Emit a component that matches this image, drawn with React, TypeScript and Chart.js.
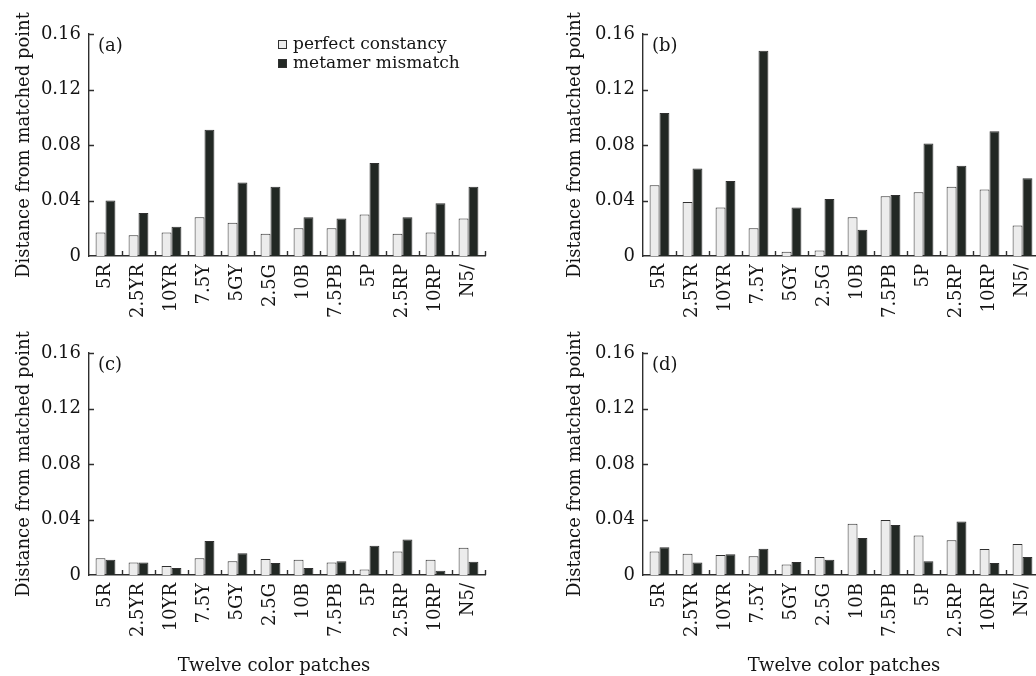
import React, { useEffect, useRef } from "react";
import { Chart, registerables } from "chart.js";

Chart.register(...registerables);

// ---------- data ----------
const categories = ["5R", "2.5YR", "10YR", "7.5Y", "5GY", "2.5G", "10B", "7.5PB", "5P", "2.5RP", "10RP", "N5/"];
const yTicks = [0, 0.04, 0.08, 0.12, 0.16];
const seriesNames = ["perfect constancy", "metamer mismatch"];
const yTitle = "Distance from matched point";
const xTitle = "Twelve color patches";

const perfectA = [0.017, 0.015, 0.017, 0.028, 0.024, 0.016, 0.020, 0.020, 0.030, 0.016, 0.017, 0.027];
const mismatchA = [0.040, 0.031, 0.021, 0.091, 0.053, 0.050, 0.028, 0.027, 0.067, 0.028, 0.038, 0.050];

const perfectB = [0.051, 0.039, 0.035, 0.020, 0.003, 0.004, 0.028, 0.043, 0.046, 0.050, 0.048, 0.022];
const mismatchB = [0.103, 0.063, 0.054, 0.148, 0.035, 0.041, 0.019, 0.044, 0.081, 0.065, 0.090, 0.056];

const perfectC = [0.012, 0.009, 0.0065, 0.012, 0.010, 0.0115, 0.011, 0.009, 0.004, 0.017, 0.011, 0.0197];
const mismatchC = [0.011, 0.009, 0.005, 0.0245, 0.0156, 0.0087, 0.005, 0.010, 0.021, 0.0255, 0.003, 0.0096];

const perfectD = [0.017, 0.0154, 0.0144, 0.0135, 0.0075, 0.013, 0.037, 0.0397, 0.0284, 0.025, 0.0188, 0.0224];
const mismatchD = [0.020, 0.009, 0.015, 0.019, 0.0094, 0.011, 0.0267, 0.036, 0.0099, 0.0385, 0.0087, 0.013];

// ---------- styles ----------
const FONT = "'DejaVu Serif', serif";
const FONT_SIZE = 18;
const LEGEND_SIZE = 17;
const TEXT = "#141414";
const AXIS = "#2e2e2e";
const LIGHT = "#ececec";
const DARK = "#222824";
const BORDER = "#303030";

type PanelCfg = {
  label: string;
  perfect: number[];
  mismatch: number[];
  x: number;
  y: number;
  w: number;
  h: number;
  padTop: number;
  padRight: number;
  yWidth: number;
  xHeight: number;
  legend: boolean;
  xTitleX: number | null;
};

const panels: PanelCfg[] = [
  { label: "(a)", perfect: perfectA, mismatch: mismatchA, x: 0, y: 0, w: 518, h: 340, padTop: 34, padRight: 33, yWidth: 89, xHeight: 84, legend: true, xTitleX: null },
  { label: "(b)", perfect: perfectB, mismatch: mismatchB, x: 551, y: 0, w: 509, h: 340, padTop: 34, padRight: 21, yWidth: 92, xHeight: 84, legend: false, xTitleX: null },
  { label: "(c)", perfect: perfectC, mismatch: mismatchC, x: 0, y: 316, w: 518, h: 360, padTop: 37, padRight: 33, yWidth: 89, xHeight: 101, legend: false, xTitleX: 274 },
  { label: "(d)", perfect: perfectD, mismatch: mismatchD, x: 551, y: 316, w: 509, h: 360, padTop: 37, padRight: 21, yWidth: 92, xHeight: 101, legend: false, xTitleX: 293 },
];

function decorPlugin(cfg: PanelCfg) {
  return {
    id: "decor",
    afterDraw(chart: any) {
      const { ctx, chartArea: a, scales } = chart;
      const ys = scales.y;
      ctx.save();
      ctx.strokeStyle = AXIS;
      ctx.lineWidth = 1.4;
      ctx.beginPath();
      const n = categories.length;
      const cw = (a.right - a.left) / n;
      for (let i = 1; i <= n; i++) {
        const px = Math.round(a.left + i * cw) + 0.5;
        ctx.moveTo(px, a.bottom);
        ctx.lineTo(px, a.bottom - 5);
      }
      for (const v of yTicks) {
        if (v === 0) continue;
        const py = Math.round(ys.getPixelForValue(v)) + 0.5;
        ctx.moveTo(a.left, py);
        ctx.lineTo(a.left + 5, py);
      }
      ctx.stroke();

      ctx.fillStyle = TEXT;
      ctx.font = `${FONT_SIZE}px ${FONT}`;
      ctx.textAlign = "left";
      ctx.textBaseline = "middle";
      ctx.fillText(cfg.label, a.left + 9, a.top + 12);

      if (cfg.legend) {
        const fills = [LIGHT, DARK];
        const baselines = [49, 68];
        ctx.font = `${LEGEND_SIZE}px ${FONT}`;
        ctx.textBaseline = "alphabetic";
        for (let i = 0; i < seriesNames.length; i++) {
          const b = baselines[i];
          ctx.fillStyle = fills[i];
          ctx.fillRect(278, b - 9, 9, 9);
          ctx.strokeStyle = BORDER;
          ctx.lineWidth = 1;
          ctx.strokeRect(278.5, b - 8.5, 8, 8);
          ctx.fillStyle = TEXT;
          ctx.fillText(seriesNames[i], 293, b);
        }
      }

      if (cfg.xTitleX !== null) {
        ctx.font = `${FONT_SIZE}px ${FONT}`;
        ctx.fillStyle = TEXT;
        ctx.textAlign = "center";
        ctx.textBaseline = "middle";
        ctx.fillText(xTitle, cfg.xTitleX, cfg.h - 10);
      }
      ctx.restore();
    },
  };
}

function BarPanel({ cfg }: { cfg: PanelCfg }) {
  const ref = useRef<HTMLCanvasElement>(null);
  useEffect(() => {
    if (!ref.current) return;
    const chart = new Chart(ref.current, {
      type: "bar",
      data: {
        labels: categories,
        datasets: [
          {
            label: seriesNames[0],
            data: cfg.perfect,
            backgroundColor: LIGHT,
            borderColor: BORDER,
            borderWidth: 1,
            categoryPercentage: 0.6,
            barPercentage: 1,
          },
          {
            label: seriesNames[1],
            data: cfg.mismatch,
            backgroundColor: DARK,
            borderColor: BORDER,
            borderWidth: 1,
            categoryPercentage: 0.6,
            barPercentage: 1,
          },
        ],
      },
      options: {
        responsive: false,
        animation: false,
        events: [],
        layout: { padding: { top: cfg.padTop, right: cfg.padRight, left: 0, bottom: 0 } },
        plugins: {
          legend: { display: false },
          tooltip: { enabled: false },
          title: { display: false },
        },
        font: { family: FONT, size: FONT_SIZE },
        scales: {
          x: {
            type: "category",
            grid: { display: false, drawTicks: false, tickLength: 0 },
            border: { display: true, color: AXIS, width: 1.4 },
            ticks: {
              autoSkip: false,
              minRotation: 90,
              maxRotation: 90,
              padding: 8,
              color: TEXT,
              font: { family: FONT, size: FONT_SIZE },
            },
            afterFit: (s: any) => {
              s.height = cfg.xHeight;
            },
          },
          y: {
            type: "linear",
            min: 0,
            max: 0.16,
            grid: { display: false, drawTicks: false, tickLength: 0 },
            border: { display: true, color: AXIS, width: 1.4 },
            afterBuildTicks: (s: any) => {
              s.ticks = yTicks.map((v) => ({ value: v }));
            },
            ticks: {
              padding: 8,
              color: TEXT,
              font: { family: FONT, size: FONT_SIZE },
              callback: (v: any) => (Number(v) === 0 ? "0" : Number(v).toFixed(2)),
            },
            title: {
              display: true,
              text: yTitle,
              color: TEXT,
              font: { family: FONT, size: FONT_SIZE },
              padding: { top: 14, bottom: 0 },
            },
            afterFit: (s: any) => {
              s.width = cfg.yWidth;
            },
          },
        },
      } as any,
      plugins: [decorPlugin(cfg)],
    });
    return () => chart.destroy();
  }, [cfg]);
  return (
    <canvas
      ref={ref}
      width={cfg.w}
      height={cfg.h}
      style={{ position: "absolute", left: cfg.x, top: cfg.y, width: cfg.w, height: cfg.h }}
    />
  );
}

export default function App() {
  return (
    <div
      style={{
        position: "fixed",
        left: 0,
        top: 0,
        width: 1036,
        height: 676,
        overflow: "hidden",
        background: "#fff",
      }}
    >
      {panels.map((p) => (
        <BarPanel key={p.label} cfg={p} />
      ))}
    </div>
  );
}
